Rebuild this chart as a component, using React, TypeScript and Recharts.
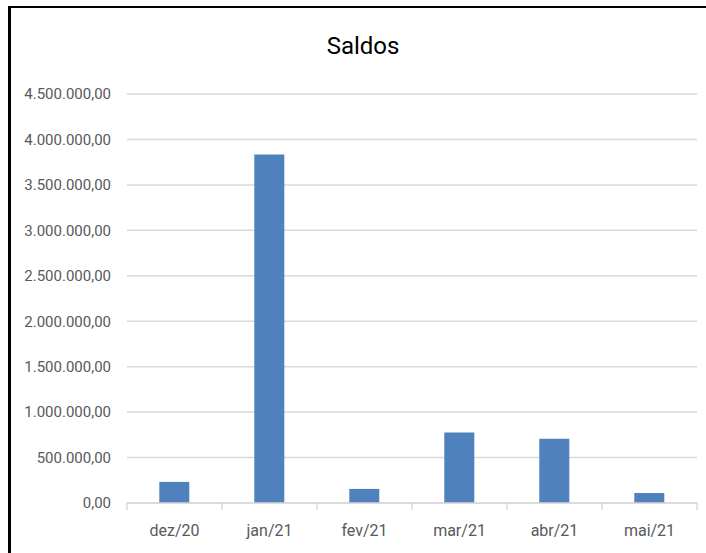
import React from 'react';
import { BarChart, Bar, XAxis, YAxis, CartesianGrid } from 'recharts';

// monthly balances
const months = ['dez/20', 'jan/21', 'fev/21', 'mar/21', 'abr/21', 'mai/21'];
const saldos = [232000, 3835000, 155000, 775000, 706000, 110000];
const yTicks = [0, 500000, 1000000, 1500000, 2000000, 2500000, 3000000, 3500000, 4000000, 4500000];

const data = months.map((m, i) => ({ mes: m, saldo: saldos[i] }));

const W = 706;
const H = 553;
const PLOT_LEFT = 127;
const PLOT_RIGHT = 697;
const BAND = (PLOT_RIGHT - PLOT_LEFT) / months.length;

const FONT = 'Roboto, "Noto Sans", sans-serif';

const fmt = (v: number) =>
    v.toLocaleString('pt-BR', { minimumFractionDigits: 2, maximumFractionDigits: 2 });

// category label plus the small divider ticks between categories
const MonthTick = (props: any) => {
    const { x, y, payload, index } = props;
    const left = x - BAND / 2;
    return (
        <g>
            <line x1={left} x2={left} y1={y} y2={y + 7} stroke="#d9d9d9" strokeWidth={1.5} />
            {index === months.length - 1 && (
                <line x1={x + BAND / 2} x2={x + BAND / 2} y1={y} y2={y + 7} stroke="#d9d9d9" strokeWidth={1.5} />
            )}
            <text x={x} y={y + 27} textAnchor="middle" dominantBaseline="central" fill="#595959" fontSize={16} fontFamily={FONT}>
                {payload.value}
            </text>
        </g>
    );
};

export default function App() {
    return (
        <div style={{ position: 'absolute', left: 0, top: 0, width: W, height: H, background: '#fff' }}>
            {/* frame */}
            <div style={{ position: 'absolute', left: 9, top: 6, width: W - 9, height: 2, background: '#000' }} />
            <div style={{ position: 'absolute', left: 8, top: 6, width: 3, height: H - 6, background: '#000' }} />
            <div
                style={{
                    position: 'absolute', left: 0, width: 726, top: 30, textAlign: 'center',
                    fontFamily: FONT, fontSize: 24, color: '#000', lineHeight: '32px',
                }}
            >
                Saldos
            </div>
            <BarChart
                width={W}
                height={H}
                data={data}
                margin={{ top: 94, right: W - PLOT_RIGHT, left: 0, bottom: 0 }}
                barCategoryGap="34%"
                style={{ position: 'absolute', left: 0, top: 0 }}
            >
                <CartesianGrid vertical={false} stroke="#d9d9d9" strokeWidth={1.5} />
                <XAxis
                    dataKey="mes"
                    height={50}
                    axisLine={{ stroke: '#d9d9d9', strokeWidth: 1.5 }}
                    tickLine={false}
                    tickSize={0}
                    tickMargin={0}
                    interval={0}
                    tick={<MonthTick />}
                />
                <YAxis
                    width={PLOT_LEFT}
                    domain={[0, 4500000]}
                    ticks={yTicks}
                    interval={0}
                    axisLine={false}
                    tickLine={false}
                    tickSize={0}
                    tickMargin={16}
                    tickFormatter={fmt}
                    tick={{ fill: '#595959', fontSize: 15, fontFamily: FONT }}
                />
                <Bar dataKey="saldo" fill="#4f81bd" isAnimationActive={false} />
            </BarChart>
        </div>
    );
}
